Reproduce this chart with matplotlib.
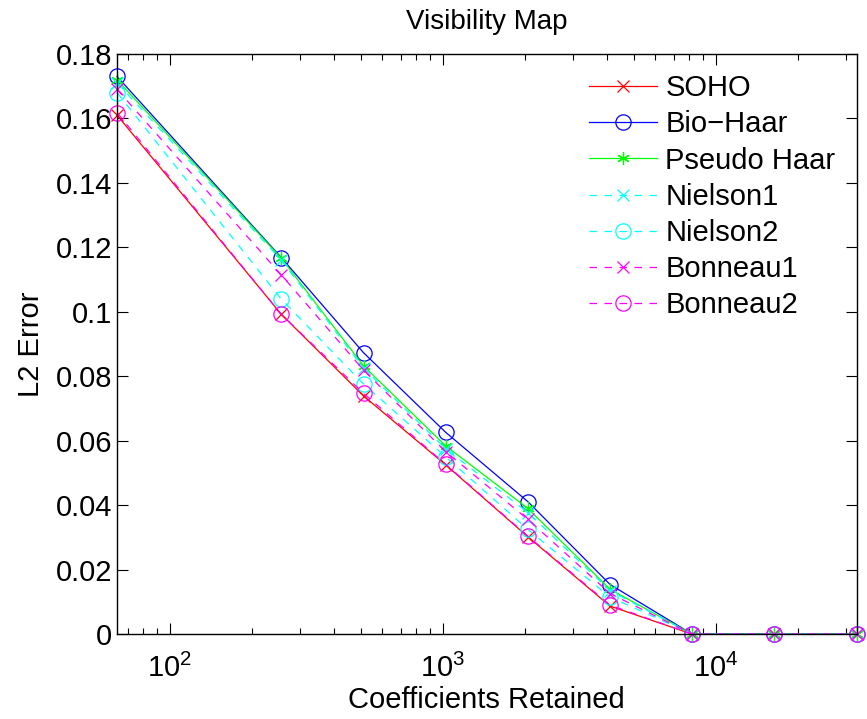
import numpy as np
import matplotlib
matplotlib.use("Agg")
import matplotlib.pyplot as plt
from matplotlib.ticker import LogLocator, NullFormatter, FixedLocator, FixedFormatter

plt.rcParams['font.family'] = ['Liberation Sans', 'DejaVu Sans']
plt.rcParams['mathtext.fontset'] = 'custom'
plt.rcParams['mathtext.rm'] = 'Liberation Sans'

coeffs = [64, 256, 512, 1024, 2048, 4096, 8192, 16384, 32768]

soho     = [0.161, 0.0992, 0.0739, 0.0525, 0.0302, 0.0087, 0, 0, 0]
bio_haar = [0.173, 0.1168, 0.0873, 0.0626, 0.0411, 0.0154, 0, 0, 0]
pseudo   = [0.172, 0.1166, 0.0832, 0.0584, 0.0390, 0.0139, 0, 0, 0]
nielson1 = [0.171, 0.1160, 0.0825, 0.0575, 0.0377, 0.0135, 0, 0, 0]
nielson2 = [0.168, 0.1039, 0.0776, 0.0550, 0.0325, 0.0115, 0, 0, 0]
bonneau1 = [0.169, 0.1114, 0.0819, 0.0566, 0.0356, 0.0126, 0, 0, 0]
bonneau2 = [0.1618, 0.0992, 0.0747, 0.0527, 0.0304, 0.0090, 0, 0, 0]

yticks = [0, 0.02, 0.04, 0.06, 0.08, 0.1, 0.12, 0.14, 0.16, 0.18]
ytick_labels = ["0", "0.02", "0.04", "0.06", "0.08", "0.1", "0.12", "0.14", "0.16", "0.18"]

names = ["SOHO", "Bio\u2212Haar", "Pseudo Haar", "Nielson1", "Nielson2", "Bonneau1", "Bonneau2"]
series = [soho, bio_haar, pseudo, nielson1, nielson2, bonneau1, bonneau2]
asterisk = (6, 2, 0)
styles = [("#ff0000", "-", "x"), ("#0000ff", "-", "o"), ("#00ff00", "-", asterisk),
          ("#00ffff", "--", "x"), ("#00ffff", "--", "o"),
          ("#ff00ff", "--", "x"), ("#ff00ff", "--", "o")]

fig = plt.figure(figsize=(8.67, 7.19), dpi=100)
ax = fig.add_axes([0.135, 0.118, 0.853, 0.807])

for name, ys, (c, ls, m) in zip(names, series, styles):
    ms = 11 if m == "o" else 9
    ax.plot(coeffs, ys, color=c, linestyle=ls, marker=m, markersize=ms,
            markerfacecolor='none', markeredgecolor=c, markeredgewidth=0.9,
            linewidth=0.9, dashes=(6, 6) if ls == "--" else (None, None),
            label=name, clip_on=False)

ax.set_xscale('log')
ax.set_xlim(64, 32768)
ax.set_ylim(0, 0.18)
ax.yaxis.set_major_locator(FixedLocator(yticks))
ax.yaxis.set_major_formatter(FixedFormatter(ytick_labels))
ax.xaxis.set_major_locator(LogLocator(base=10))
ax.xaxis.set_minor_locator(LogLocator(base=10, subs=np.arange(2, 10)))
ax.xaxis.set_minor_formatter(NullFormatter())
ax.tick_params(which='both', direction='in', top=True, right=True, labelsize=21)
ax.tick_params(which='major', length=8, width=0.8)
ax.tick_params(which='minor', length=4, width=0.8)
ax.tick_params(axis='x', pad=14)
for s in ax.spines.values():
    s.set_linewidth(1.0)

ax.set_title("Visibility Map", fontsize=20, pad=18)
ax.set_xlabel("Coefficients Retained", fontsize=21, labelpad=2)
ax.set_ylabel("L2 Error", fontsize=21, labelpad=8)

ax.legend(loc='upper right', bbox_to_anchor=(0.995, 0.995), frameon=False,
          fontsize=21, handlelength=2.3, handletextpad=0.3, labelspacing=0.28,
          borderaxespad=0.2)

fig.savefig("out.png", dpi=100)
